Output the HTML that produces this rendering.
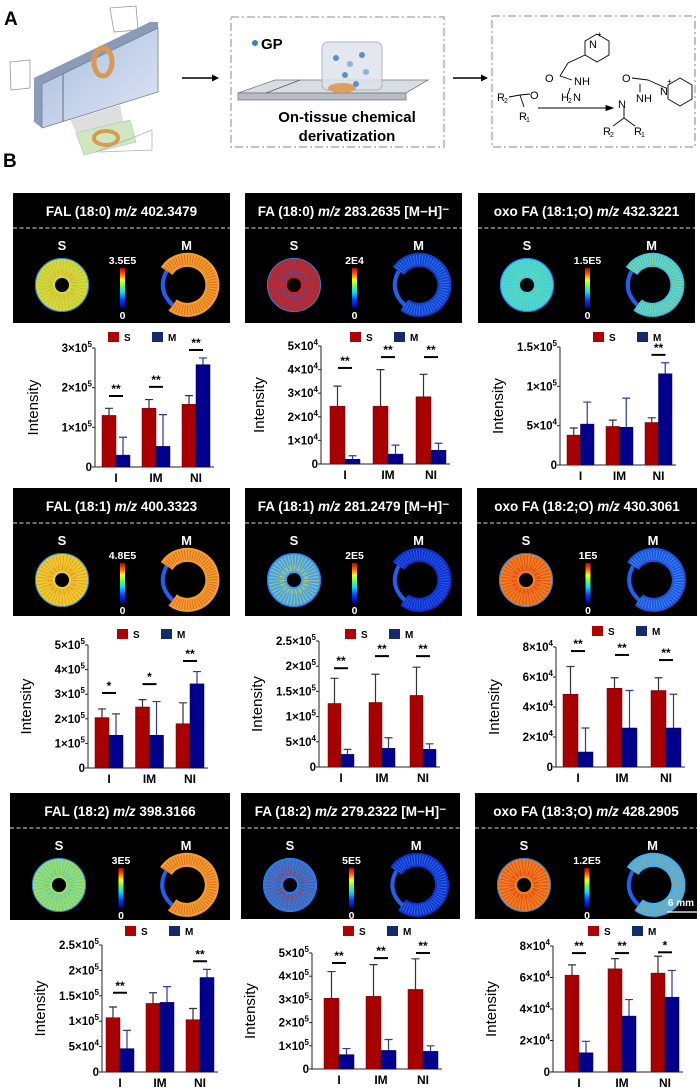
<!DOCTYPE html>
<html><head><meta charset="utf-8">
<style>
html,body{margin:0;padding:0;background:#fff;}
body{width:700px;height:1090px;overflow:hidden;font-family:"Liberation Sans",Arial,sans-serif;}
svg{display:block}
text{font-family:"Liberation Sans",Arial,sans-serif;}
</style></head>
<body>
<svg id="fig" width="700" height="1090" viewBox="0 0 700 1090" xmlns="http://www.w3.org/2000/svg">
<defs>
<linearGradient id="cbar" x1="0" y1="1" x2="0" y2="0">
<stop offset="0" stop-color="#00008f"/><stop offset="0.2" stop-color="#0040ff"/><stop offset="0.4" stop-color="#00e0ff"/><stop offset="0.55" stop-color="#60ff60"/><stop offset="0.7" stop-color="#ffff00"/><stop offset="0.85" stop-color="#ff6000"/><stop offset="1" stop-color="#c00000"/>
</linearGradient>
<linearGradient id="slab" x1="0" y1="0" x2="1" y2="1"><stop offset="0" stop-color="#a8bde0"/><stop offset="1" stop-color="#dfe6f2"/></linearGradient>
</defs>

<!-- Panel A -->
<g>
<text x="4" y="25" font-size="19" font-weight="bold">A</text>
<g>
<polygon points="110,8 136,6 138,30 114,32" fill="#fff" stroke="#999" stroke-width="0.8"/>
<polygon points="10,62 30,60 30,88 11,90" fill="#fff" stroke="#999" stroke-width="0.8"/>
<polygon points="34,78 150,22 158,22 158,28 42,84" fill="#8a9ab8"/>
<polygon points="34,78 42,84 42,128 34,122" fill="#8d9cb8"/>
<polygon points="42,84 158,28 158,92 42,128" fill="url(#slab)" stroke="#6f7f9f" stroke-width="0.8"/>
<line x1="63" y1="74" x2="63" y2="121" stroke="#555" stroke-width="0.8"/>
<polygon points="70,120 120,105 125,130 80,140" fill="#c8c8c8" opacity="0.6"/>
<ellipse cx="103" cy="62" rx="9" ry="14" fill="none" stroke="#d79a52" stroke-width="5"/>
<polygon points="76,133 130,120 136,142 84,155" fill="#cfe6bf" stroke="#9cb" stroke-width="0.6"/>
<ellipse cx="106" cy="138" rx="12" ry="7" fill="none" stroke="#d79a52" stroke-width="4"/>
<polyline points="96,152 152,130 152,150 100,152" fill="none" stroke="#aaa" stroke-width="0.7"/>
</g>
<g><line x1="182" y1="78" x2="212" y2="78" stroke="#000" stroke-width="1.5"/><polygon points="212,74.5 219,78 212,81.5"/></g>
<rect x="231" y="17" width="213" height="130" fill="none" stroke="#888" stroke-width="1" stroke-dasharray="8,3,2,3"/>
<circle cx="255" cy="43" r="3" fill="#3d7ec9"/>
<text x="261" y="49" font-size="15" font-weight="bold">GP</text>
<g>
<polygon points="238,93 275,80 428,80 406,93" fill="#d8dde4" stroke="#777" stroke-width="0.8"/>
<polygon points="238,93 406,93 406,100 238,100" fill="#b7bcc4" stroke="#777" stroke-width="0.8"/>
<line x1="266" y1="93" x2="300" y2="80" stroke="#555" stroke-width="0.8"/>
<rect x="322" y="42" width="60" height="48" rx="6" fill="#dfe4ec" stroke="#aab" opacity="0.85"/>
<ellipse cx="342" cy="88" rx="14" ry="5" fill="#d9a062"/>
<circle cx="336" cy="58" r="3" fill="#5b8fd0"/><circle cx="350" cy="64" r="3" fill="#8bb2e0"/><circle cx="362" cy="55" r="3" fill="#5b8fd0"/><circle cx="345" cy="75" r="3" fill="#5b8fd0"/><circle cx="366" cy="72" r="3" fill="#8bb2e0"/><circle cx="356" cy="84" r="3" fill="#5b8fd0"/>
</g>
<text x="347" y="122" font-size="15" font-weight="bold" text-anchor="middle">On-tissue chemical</text>
<text x="347" y="141" font-size="15" font-weight="bold" text-anchor="middle">derivatization</text>
<g><line x1="453" y1="78" x2="481" y2="78" stroke="#000" stroke-width="1.5"/><polygon points="481,74.5 488,78 481,81.5"/></g>
<rect x="492" y="16" width="203" height="131" fill="none" stroke="#888" stroke-width="1" stroke-dasharray="8,3,2,3"/>
<g font-size="11" stroke="#000" stroke-width="0.9" fill="none">
<polygon points="597,34 609,41 609,55 597,62 585,55 585,41"/>
<line x1="585" y1="55" x2="568" y2="63"/><line x1="568" y1="63" x2="560" y2="76"/><line x1="560" y1="76" x2="572" y2="80"/><line x1="570" y1="88" x2="568" y2="94"/>
<line x1="509" y1="97" x2="520" y2="95"/><line x1="520" y1="95" x2="530" y2="94"/><line x1="520" y1="95" x2="524" y2="107"/>
<line x1="538" y1="108" x2="606" y2="108"/>
<polygon points="606,105.5 613,108 606,110.5" fill="#000"/>
<polygon points="680,78 692,85 692,99 680,106 668,99 668,85"/>
<line x1="666" y1="88" x2="648" y2="80"/><line x1="648" y1="80" x2="632" y2="78"/><line x1="640" y1="84" x2="640" y2="92"/>
<line x1="624" y1="108" x2="624" y2="118"/><line x1="624" y1="118" x2="613" y2="126"/><line x1="624" y1="118" x2="635" y2="126"/>
<g stroke="none" fill="#000">
<text x="589" y="48" font-size="11">N</text><text x="597" y="37" font-size="8">+</text>
<text x="545" y="82">O</text><text x="574" y="85">NH</text><text x="561" y="101">H</text><text x="568" y="103" font-size="7">2</text><text x="573" y="101">N</text>
<text x="497" y="101">R</text><text x="504" y="103" font-size="7">2</text><text x="530" y="99">O</text><text x="519" y="120">R</text><text x="526" y="122" font-size="7">1</text>
<text x="622" y="82">O</text><text x="636" y="102">NH</text><text x="618" y="108">N</text><text x="660" y="95" font-size="11">N</text><text x="667" y="84" font-size="8">+</text>
<text x="603" y="135">R</text><text x="610" y="137" font-size="7">2</text><text x="634" y="135">R</text><text x="641" y="137" font-size="7">1</text>
</g>
</g>
</g>
<text x="3" y="167" font-size="19" font-weight="bold">B</text>

<g id="panels"></g>
<g id="charts"></g>
</svg>

<script>
// ===== chart data (values in absolute intensity units) =====
const categories = ["I", "IM", "NI"];
// Row 1
const c1S = [130000, 148000, 158000]; const c1SErr = [148000, 170000, 180000];
const c1M = [30000, 52000, 258000];   const c1MErr = [75000, 132000, 275000];
const c1Ticks = [0, 100000, 200000, 300000];
const c1Sig = ["**", "**", "**"]; const c1SigAt = [179000, 202000, 295000];
const c2S = [24500, 24500, 28500]; const c2SErr = [33000, 40000, 38000];
const c2M = [2000, 4200, 5800];    const c2MErr = [3500, 8000, 8800];
const c2Ticks = [0, 10000, 20000, 30000, 40000, 50000];
const c2Sig = ["**", "**", "**"]; const c2SigAt = [40700, 45300, 45300];
const c3S = [38000, 49000, 54000]; const c3SErr = [47000, 57000, 60000];
const c3M = [52000, 48000, 116000]; const c3MErr = [80000, 85000, 130000];
const c3Ticks = [0, 50000, 100000, 150000];
const c3Sig = ["", "", "**"]; const c3SigAt = [0, 0, 140000];
// Row 2
const c4S = [205000, 248000, 180000]; const c4SErr = [240000, 278000, 265000];
const c4M = [133000, 133000, 342000]; const c4MErr = [220000, 270000, 392000];
const c4Ticks = [0, 100000, 200000, 300000, 400000, 500000];
const c4Sig = ["*", "*", "**"]; const c4SigAt = [305000, 341000, 435000];
const c5S = [126000, 128000, 142000]; const c5SErr = [176000, 184000, 198000];
const c5M = [25000, 37000, 35000];    const c5MErr = [35000, 58000, 46000];
const c5Ticks = [0, 50000, 100000, 150000, 200000, 250000];
const c5Sig = ["**", "**", "**"]; const c5SigAt = [196000, 220000, 220000];
const c6S = [48500, 52500, 51000]; const c6SErr = [67000, 59500, 59500];
const c6M = [10000, 26000, 26000]; const c6MErr = [26000, 51000, 48500];
const c6Ticks = [0, 20000, 40000, 60000, 80000];
const c6Sig = ["**", "**", "**"]; const c6SigAt = [77300, 74700, 71300];
// Row 3
const c7S = [107000, 135000, 103000]; const c7SErr = [128000, 156000, 125000];
const c7M = [46000, 137000, 186000];  const c7MErr = [82000, 168000, 202000];
const c7Ticks = [0, 50000, 100000, 150000, 200000, 250000];
const c7Sig = ["**", "", "**"]; const c7SigAt = [156000, 0, 218000];
const c8S = [305000, 313000, 343000]; const c8SErr = [420000, 450000, 475000];
const c8M = [62000, 80000, 76000];    const c8MErr = [88000, 127000, 100000];
const c8Ticks = [0, 100000, 200000, 300000, 400000, 500000];
const c8Sig = ["**", "**", "**"]; const c8SigAt = [457000, 478000, 500000];
const c9S = [61500, 65500, 62800]; const c9SErr = [68000, 72000, 73500];
const c9M = [12200, 35500, 47500]; const c9MErr = [19500, 46000, 64500];
const c9Ticks = [0, 20000, 40000, 60000, 80000];
const c9Sig = ["**", "**", "*"]; const c9SigAt = [75500, 75500, 76000];

// ===== layout (pixel geometry, not data) =====
const layouts = [
 {ax:95, x0:102, pitch:40, w:14, top:348, zero:467, lx:108, ly:332},
 {ax:321,x0:330, pitch:43, w:15, top:346, zero:464, lx:350, ly:332},
 {ax:560,x0:567, pitch:39, w:13.5,top:347, zero:465, lx:593, ly:332},
 {ax:88, x0:95,  pitch:40.5,w:14, top:645, zero:768, lx:117, ly:629},
 {ax:319,x0:328, pitch:41, w:13, top:641, zero:767, lx:345, ly:629},
 {ax:556,x0:563, pitch:44, w:15, top:647, zero:767, lx:592, ly:626},
 {ax:102,x0:106, pitch:40, w:14, top:945, zero:1072,lx:125, ly:926},
 {ax:312,x0:324, pitch:42, w:15, top:953, zero:1069,lx:343, ly:926},
 {ax:553,x0:565, pitch:43, w:14, top:946, zero:1072,lx:588, ly:926}
];
const chartData = [
 [c1S,c1SErr,c1M,c1MErr,c1Ticks,c1Sig,c1SigAt],[c2S,c2SErr,c2M,c2MErr,c2Ticks,c2Sig,c2SigAt],[c3S,c3SErr,c3M,c3MErr,c3Ticks,c3Sig,c3SigAt],
 [c4S,c4SErr,c4M,c4MErr,c4Ticks,c4Sig,c4SigAt],[c5S,c5SErr,c5M,c5MErr,c5Ticks,c5Sig,c5SigAt],[c6S,c6SErr,c6M,c6MErr,c6Ticks,c6Sig,c6SigAt],
 [c7S,c7SErr,c7M,c7MErr,c7Ticks,c7Sig,c7SigAt],[c8S,c8SErr,c8M,c8MErr,c8Ticks,c8Sig,c8SigAt],[c9S,c9SErr,c9M,c9MErr,c9Ticks,c9Sig,c9SigAt]
];

const NS = "http://www.w3.org/2000/svg";
function mk(tag, attrs, parent){ const e=document.createElementNS(NS,tag); for(const k in attrs) e.setAttribute(k,attrs[k]); if(parent) parent.appendChild(e); return e; }

function tickText(v, parent, x, y){
  const t = mk("text",{x:x,y:y,"font-size":"11.5","font-weight":"bold","text-anchor":"end"},parent);
  if(v===0){ t.textContent="0"; return t; }
  const ex = Math.floor(Math.log10(v)+1e-9);
  let m = v/Math.pow(10,ex); m = Math.round(m*10)/10;
  t.appendChild(document.createTextNode(m+"×10"));
  const s = mk("tspan",{dy:"-5","font-size":"8"},t); s.textContent=String(ex);
  const s2 = mk("tspan",{dy:"5","font-size":"4"},t); s2.textContent=" ";
  return t;
}

const chartsG = document.getElementById("charts");
chartData.forEach(function(d, ci){
  const L = layouts[ci];
  const [sv, se, mv, me, ticks, sig, sigAt] = d;
  const max = ticks[ticks.length-1];
  const y = v => L.zero - (v/max)*(L.zero-L.top);
  const g = mk("g",{},chartsG);
  
  
  const lg = mk("g",{},g);
  
  
  const ls = mk("rect",{x:L.lx,y:L.ly,width:11,height:10,fill:"#b00000"},lg);
  
  
  const lt = mk("text",{x:L.lx+16,y:L.ly+9,"font-size":"10","font-weight":"bold"},lg); lt.textContent="S";
  
  
  const lm = mk("rect",{x:L.lx+44,y:L.ly,width:11,height:10,fill:"#132a6e"},lg);
  
  
  const lmt = mk("text",{x:L.lx+60,y:L.ly+9,"font-size":"10","font-weight":"bold"},lg); lmt.textContent="M";
  
  
  const yl = mk("text",{x:0,y:0,"font-size":"15","text-anchor":"middle",transform:"translate("+(L.ax-57)+","+((L.top+L.zero)/2)+") rotate(-90)"},g);
  yl.textContent="Intensity";
  
  
  const xEnd = L.x0 + 2*L.pitch + 2*L.w + 4;
  const ya = mk("line",{x1:L.ax,y1:L.top,x2:L.ax,y2:L.zero,stroke:"#222","stroke-width":"1"},g);
  
  
  const xa = mk("line",{x1:L.ax,y1:L.zero,x2:xEnd,y2:L.zero,stroke:"#222","stroke-width":"1"},g);
  
  
  ticks.forEach(function(tv){
    const ty = y(tv);
    mk("line",{x1:L.ax-3,y1:ty,x2:L.ax,y2:ty,stroke:"#222","stroke-width":"1"},g);
    const tt = tickText(tv,g,L.ax-3,ty+4);
    
    
  });
  categories.forEach(function(cat, i){
    const xs = L.x0 + i*L.pitch;
    const xm = xs + L.w;
    const e1 = mk("path",{d:"M"+(xs+L.w/2)+","+y(sv[i])+"V"+y(se[i])+"M"+(xs+L.w/2-4)+","+y(se[i])+"H"+(xs+L.w/2+4),stroke:"#333","stroke-width":"1.2",fill:"none"},g);
    
    
    const e2 = mk("path",{d:"M"+(xm+L.w/2)+","+y(mv[i])+"V"+y(me[i])+"M"+(xm+L.w/2-4)+","+y(me[i])+"H"+(xm+L.w/2+4),stroke:"#2a3aa0","stroke-width":"1.2",fill:"none"},g);
    
    
    const b1 = mk("rect",{x:xs,y:y(sv[i]),width:L.w,height:L.zero-y(sv[i]),fill:"#a80000",stroke:"#600","stroke-width":"0.5"},g);
    
    
    const b2 = mk("rect",{x:xm,y:y(mv[i]),width:L.w,height:L.zero-y(mv[i]),fill:"#00008c",stroke:"#000050","stroke-width":"0.5"},g);
    
    
    const cl = mk("text",{x:xm,y:L.zero+15,"font-size":"12","font-weight":"bold","text-anchor":"middle"},g);
    cl.textContent=cat;
    
    
    if(sig[i]){
      const sy = y(sigAt[i]);
      const sl = mk("line",{x1:xm-7,y1:sy,x2:xm+7,y2:sy,stroke:"#000","stroke-width":"2"},g);
      
      
      const st = mk("text",{x:xm,y:sy-3,"font-size":"12","font-weight":"bold","text-anchor":"middle"},g);
      st.textContent=sig[i];
      
      
    }
  });
});

// ===== MSI image panels =====
const panelTitles = [
 ["FAL (18:0) ","402.3479",""],["FA (18:0) ","283.2635"," [M−H]⁻"],["oxo FA (18:1;O) ","432.3221",""],
 ["FAL (18:1) ","400.3323",""],["FA (18:1) ","281.2479"," [M−H]⁻"],["oxo FA (18:2;O) ","430.3061",""],
 ["FAL (18:2) ","398.3166",""],["FA (18:2) ","279.2322"," [M−H]⁻"],["oxo FA (18:3;O) ","428.2905",""]
];
const colorbarMax = ["3.5E5","2E4","1.5E5","4.8E5","2E5","1E5","3E5","5E5","1.2E5"];
const panelBoxes = [[13,193,217,130],[245,193,217,130],[478,193,217,130],[13,488,217,128],[245,488,217,128],[477,488,220,128],[10,793,220,127],[241,793,219,126],[475,793,222,126]];
const ringColors = [
 [["#c8e040","#f0a020"],["#f0a030","#e04010"]],
 [["#d02010","#2060e0"],["#1040d0","#40a0ff"]],
 [["#40d0e0","#80e080"],["#40c8e0","#e0e040"]],
 [["#e8d030","#f08020"],["#f0a030","#e04010"]],
 [["#40a0f0","#e0e040"],["#1030d0","#3080f0"]],
 [["#f08020","#e03010"],["#2050e0","#40c0f0"]],
 [["#a0e060","#40c0e0"],["#f0a030","#e04010"]],
 [["#2080f0","#d02010"],["#1030d0","#40a0f0"]],
 [["#f08020","#e03010"],["#40b0f0","#f0a030"]]
];
const panelsG = document.getElementById("panels");
panelBoxes.forEach(function(b, pi){
  const [px,py,pw,ph] = b;
  const g = mk("g",{},panelsG);
  
  
  mk("rect",{x:px,y:py,width:pw,height:ph,fill:"#000"},g);
  const t = mk("text",{x:px+pw/2,y:py+23,"font-size":"13.5","font-weight":"bold",fill:"#fff","text-anchor":"middle"},g);
  
  
  t.appendChild(document.createTextNode(panelTitles[pi][0]));
  const it = mk("tspan",{"font-style":"italic"},t); it.textContent="m/z";
  t.appendChild(document.createTextNode(" "+panelTitles[pi][1]+panelTitles[pi][2]));
  mk("line",{x1:px,y1:py+35,x2:px+pw,y2:py+35,stroke:"#ddd","stroke-width":"1","stroke-dasharray":"4,2.5"},g);
  const sl = mk("text",{x:px+49,y:py+57,"font-size":"13","font-weight":"bold",fill:"#fff","text-anchor":"middle"},g); sl.textContent="S";
  const ml = mk("text",{x:px+pw*0.8,y:py+57,"font-size":"13","font-weight":"bold",fill:"#fff","text-anchor":"middle"},g); ml.textContent="M";
  const cy = py + 92;
  const cS = ringColors[pi][0], cM = ringColors[pi][1];
  const s1 = mk("circle",{cx:px+49,cy:cy,r:17,fill:"none",stroke:cS[0],"stroke-width":"20"},g);
  
  
  mk("circle",{cx:px+49,cy:cy,r:17,fill:"none",stroke:cS[1],"stroke-width":"16","stroke-dasharray":"1,1.6",opacity:"0.55"},g);
  mk("circle",{cx:px+49,cy:cy,r:12,fill:"none",stroke:cS[1],"stroke-width":"5","stroke-dasharray":"1.5,2.5",opacity:"0.5"},g);
  mk("circle",{cx:px+49,cy:cy,r:26.5,fill:"none",stroke:"#2080f0","stroke-width":"1"},g);
  const mx = px+pw*0.8;
  const m1 = mk("path",{d:"M"+(mx-14)+","+(cy+20)+" A25,25 0 1,0 "+(mx-20)+","+(cy-14),fill:"none",stroke:cM[0],"stroke-width":"14"},g);
  
  
  mk("path",{d:"M"+(mx-14)+","+(cy+20)+" A25,25 0 1,0 "+(mx-20)+","+(cy-14),fill:"none",stroke:cM[1],"stroke-width":"10","stroke-dasharray":"1,1.6",opacity:"0.55"},g);
  mk("path",{d:"M"+(mx-20)+","+(cy-14)+" Q"+(mx-30)+","+(cy+5)+" "+(mx-14)+","+(cy+20),fill:"none",stroke:"#2060f0","stroke-width":"4"},g);
  const cbx = px + pw*0.5 + 1;
  const cb = mk("rect",{x:cbx-2.5,y:py+75,width:5,height:40,fill:"url(#cbar)"},g);
  
  
  const cmx = mk("text",{x:cbx,y:py+71,"font-size":"10.5","font-weight":"bold",fill:"#fff","text-anchor":"middle"},g); cmx.textContent=colorbarMax[pi];
  const cmn = mk("text",{x:cbx,y:py+126,"font-size":"10.5","font-weight":"bold",fill:"#fff","text-anchor":"middle"},g); cmn.textContent="0";
  if(pi===8){
    const sb = mk("text",{x:px+pw-3,y:py+113,"font-size":"10","font-weight":"bold",fill:"#fff","text-anchor":"end"},g); sb.textContent="6 mm";
    
    
    mk("line",{x1:px+pw-30,y1:py+119,x2:px+pw,y2:py+119,stroke:"#fff","stroke-width":"1.2"},g);
  }
});
</script>
</body></html>
